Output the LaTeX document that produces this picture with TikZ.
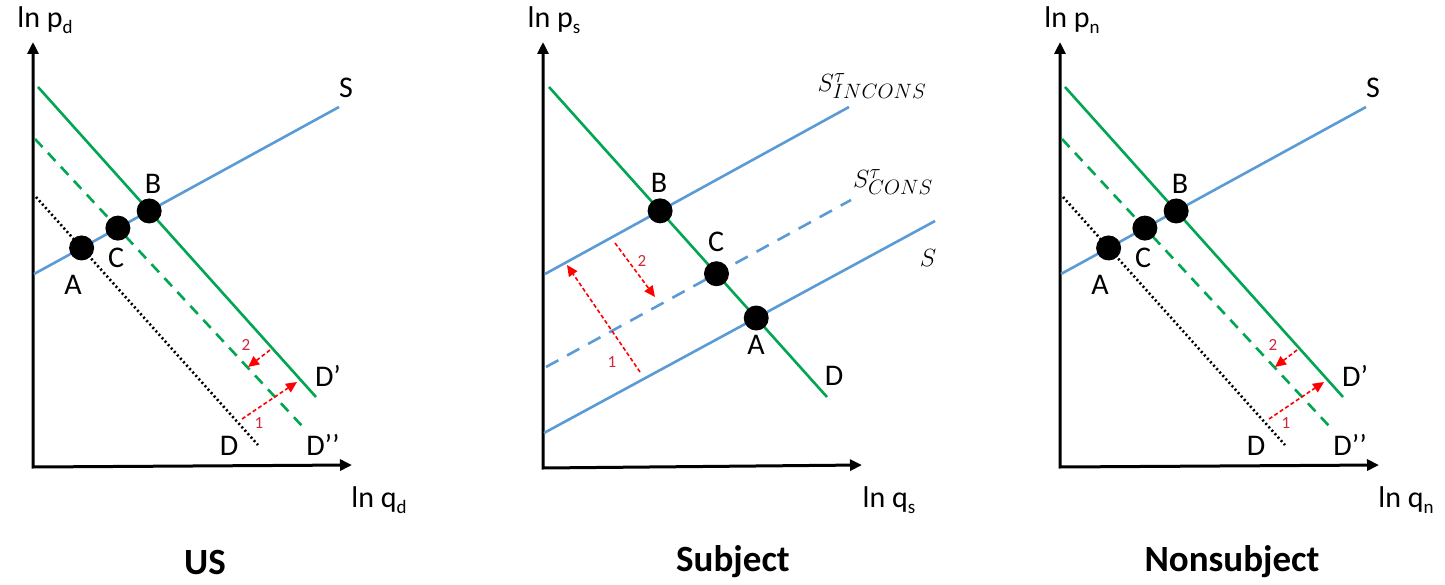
\documentclass[tikz,border=0pt]{standalone}
\usepackage{fontspec}
\setmainfont{Carlito}
\usetikzlibrary{arrows.meta}
\definecolor{sblue}{RGB}{91,155,213}
\definecolor{dgreen}{RGB}{0,166,81}
\definecolor{numred}{RGB}{205,40,60}
\newcommand{\lsub}[1]{\raisebox{-0.22em}{\fontsize{19}{19}\selectfont #1}}
\tikzset{
  axisline/.style={line width=3pt, line join=miter, {Triangle[length=12pt,width=11pt]}-{Triangle[length=12pt,width=11pt]}},
  greenline/.style={dgreen, line width=2.6pt},
  greendash/.style={dgreen, line width=2.6pt, dash pattern=on 11pt off 8pt},
  blackdot/.style={black, line width=2.6pt, dash pattern=on 2pt off 2.6pt},
  blueline/.style={sblue, line width=2.6pt},
  bluedash/.style={sblue, line width=2.6pt, dash pattern=on 14pt off 10pt},
  shiftarrow/.style={red, line width=1.6pt, dash pattern=on 4pt off 2.5pt, -{Triangle[length=11pt,width=10pt]}},
  eqdot/.style={circle, fill=black, inner sep=0pt, minimum size=25pt},
  lbl/.style={inner sep=0pt, font=\fontsize{30}{32}\selectfont},
  numlbl/.style={inner sep=0pt, text=numred, font=\fontsize{17}{18}\selectfont},
  mlbl/.style={inner sep=0pt, font=\fontsize{29}{30}\selectfont},
  title/.style={inner sep=0pt, font=\fontsize{37}{40}\selectfont\bfseries},
}
% side panel (US / Nonsubject), drawn in the coordinates of the left panel
\newcommand{\sidepanel}[2]{%
  \coordinate (yt) at (33,42);
  \coordinate (o) at (33,467);
  \coordinate (xt) at (352,465);
  \draw[axisline] (yt) -- (o) -- (xt);
  \node[lbl] (ylab) at (45,20) {ln p\lsub{#1}};
  \node[lbl] (xlab) at (379,500) {ln q\lsub{#1}};
  \coordinate (dp1) at (38,87); \coordinate (dp2) at (316,397);
  \coordinate (dd1) at (35,139); \coordinate (dd2) at (303,427);
  \coordinate (d1) at (36,197); \coordinate (d2) at (258,445);
  \coordinate (s1) at (34,274); \coordinate (s2) at (339,107);
  \draw[blackdot] (d1) -- (d2);
  \draw[greendash] (dd1) -- (dd2);
  \draw[greenline] (dp1) -- (dp2);
  \draw[blueline] (s1) -- (s2);
  \node[eqdot] (B) at (intersection of s1--s2 and dp1--dp2) {};
  \node[eqdot] (C) at (intersection of s1--s2 and dd1--dd2) {};
  \node[eqdot] (A) at (intersection of s1--s2 and d1--d2) {};
  \node[lbl] (Blab) at (153,184) {B};
  \node[lbl] (Clab) at (116,258) {C};
  \node[lbl] (Alab) at (73,285) {A};
  \node[lbl] (Slab) at (346,88) {S};
  \node[lbl] (Dplab) at (328,376) {D’};
  \node[lbl] (Dpplab) at (323,445) {D’\kern0pt’};
  \node[lbl] (Dlab) at (229,446) {D};
  \coordinate (a2s) at (270,350); \coordinate (a2e) at (248,367);
  \draw[shiftarrow] (a2s) -- (a2e);
  \node[numlbl] (n2) at (246,345) {2};
  \coordinate (a1s) at (242,419); \coordinate (a1e) at (297,382);
  \draw[shiftarrow] (a1s) -- (a1e);
  \node[numlbl] (n1) at (259,423) {1};
  \node[title] (ttl) at (205,562) {#2};
}
\begin{document}
\begin{tikzpicture}[x=1pt,y=-1pt]
\useasboundingbox (0,0) rectangle (1445,585);
% ---------- US ----------
\begin{scope}[name prefix=us-]
  \sidepanel{d}{US}
\end{scope}
% ---------- Nonsubject ----------
\begin{scope}[shift={(1027,0)}, name prefix=ns-]
  \sidepanel{n}{Nonsubject}
\end{scope}
% ---------- Subject ----------
\begin{scope}[name prefix=sb-]
  \coordinate (yt) at (543,42);
  \coordinate (o) at (543,468);
  \coordinate (xt) at (862,465);
  \draw[axisline] (yt) -- (o) -- (xt);
  \node[lbl] (ylab) at (554,20) {ln p\lsub{s}};
  \node[lbl] (xlab) at (889,500) {ln q\lsub{s}};
  \coordinate (dm1) at (549,87); \coordinate (dm2) at (827,397);
  \coordinate (si1) at (545,274); \coordinate (si2) at (849,107);
  \coordinate (sc1) at (546,367); \coordinate (sc2) at (851,200);
  \coordinate (s1) at (544,433); \coordinate (s2) at (935,221);
  \draw[greenline] (dm1) -- (dm2);
  \draw[blueline] (si1) -- (si2);
  \draw[bluedash] (sc1) -- (sc2);
  \draw[blueline] (s1) -- (s2);
  \node[eqdot] (B) at (intersection of si1--si2 and dm1--dm2) {};
  \node[eqdot] (C) at (intersection of sc1--sc2 and dm1--dm2) {};
  \node[eqdot] (A) at (intersection of s1--s2 and dm1--dm2) {};
  \node[lbl] (Blab) at (659,183) {B};
  \node[lbl] (Clab) at (716,242) {C};
  \node[lbl] (Alab) at (756,345) {A};
  \node[lbl] (Dlab) at (834,376) {D};
  \node[mlbl] (Silab) at (872,86) {$S^{\tau}_{INCONS}$};
  \node[mlbl] (Sclab) at (893,182) {$S^{\tau}_{CONS}$};
  \node[mlbl] (Slab) at (928,258) {$S$};
  \coordinate (a2s) at (615,243); \coordinate (a2e) at (655,297);
  \draw[shiftarrow] (a2s) -- (a2e);
  \node[numlbl] (n2) at (642,261) {2};
  \coordinate (a1s) at (640,372); \coordinate (a1e) at (567,265);
  \draw[shiftarrow] (a1s) -- (a1e);
  \node[numlbl] (n1) at (612,362) {1};
  \node[title] (ttl) at (733,562) {Subject};
\end{scope}
\end{tikzpicture}
\end{document}
